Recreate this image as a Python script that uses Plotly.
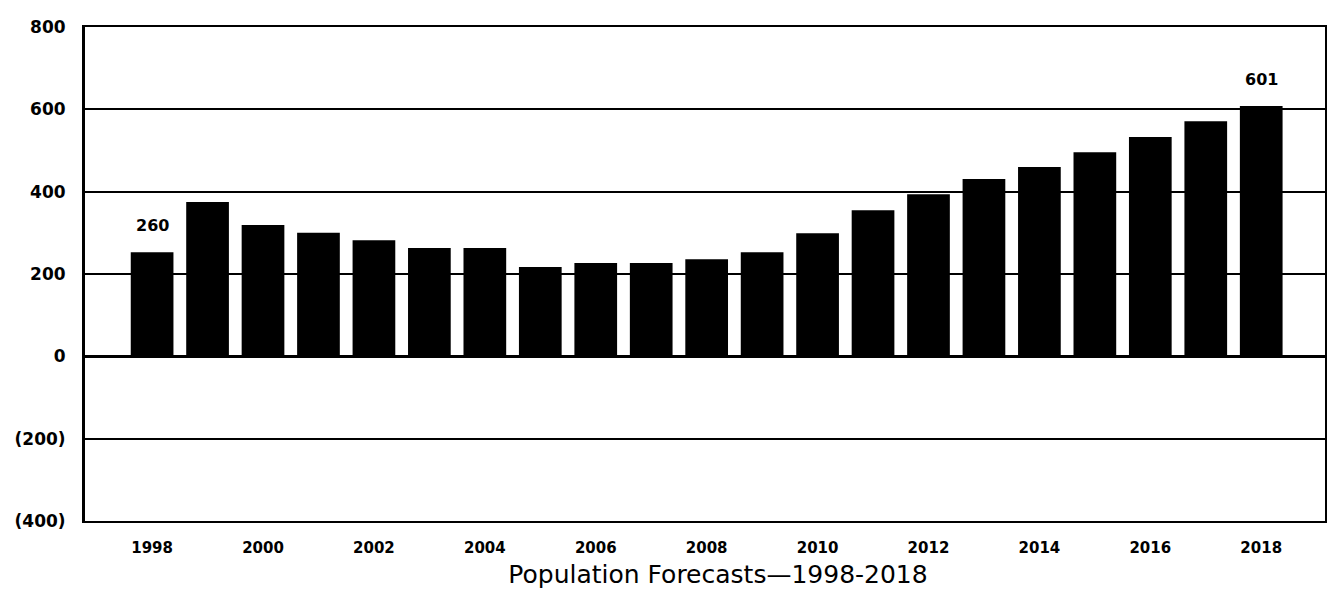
import plotly.graph_objects as go

years = list(range(1998, 2019))
population = [253, 375, 319, 300, 282, 263, 263, 217, 227, 227, 236,
              253, 299, 355, 394, 431, 460, 496, 533, 571, 608]
label_years = [1998, 2018]
label_texts = ["260", "601"]

y_tick_vals = [800, 600, 400, 200, 0, -200, -400]
y_tick_text = ["800", "600", "400", "200", "0", "(200)", "(400)"]
x_tick_vals = list(range(1998, 2019, 2))
x_tick_text = [str(y) for y in x_tick_vals]
chart_title = "Population Forecasts\u20141998-2018"

fig = go.Figure()
fig.add_trace(go.Bar(
    x=years, y=population, marker=dict(color="black", line=dict(width=0)),
    width=0.77,
))

for yr, txt in zip(label_years, label_texts):
    fig.add_annotation(
        x=yr, y=population[years.index(yr)], text=txt, showarrow=False,
        yanchor="middle", yshift=27,
        font=dict(family="DejaVu Sans", size=16, color="black", weight="bold"),
    )

fig.update_layout(
    width=1327, height=589, autosize=False,
    margin=dict(l=85, r=2, t=27, b=68),
    paper_bgcolor="white", plot_bgcolor="white",
    showlegend=False,
    font=dict(family="DejaVu Sans", size=14, color="black"),
    title=dict(text=chart_title, x=718 / 1327, xanchor="center",
               y=1 - 574 / 589, yanchor="middle",
               xref="container", yref="container",
               font=dict(family="DejaVu Sans", size=25, color="black")),
)
fig.update_xaxes(
    range=[1996.79, 2019.15], tickvals=x_tick_vals, ticktext=x_tick_text,
    showgrid=False, showline=True, linecolor="black", linewidth=2, mirror=True,
    ticks="", automargin=False, ticklabelstandoff=12,
    tickfont=dict(family="DejaVu Sans", size=15, color="black", weight="bold"),
)
fig.update_yaxes(
    range=[-400, 800], tickvals=y_tick_vals, ticktext=y_tick_text,
    showgrid=True, gridcolor="black", gridwidth=2,
    zeroline=True, zerolinecolor="black", zerolinewidth=3,
    showline=True, linecolor="black", linewidth=3, mirror=True,
    ticks="", ticklabelstandoff=13, automargin=False,
    tickfont=dict(family="DejaVu Sans", size=17, color="black", weight="bold"),
)

fig.write_html(
    "out.html",
    config={"displayModeBar": False},
    post_script="document.body.style.margin='0px';"
                "document.body.style.overflow='hidden';",
)
